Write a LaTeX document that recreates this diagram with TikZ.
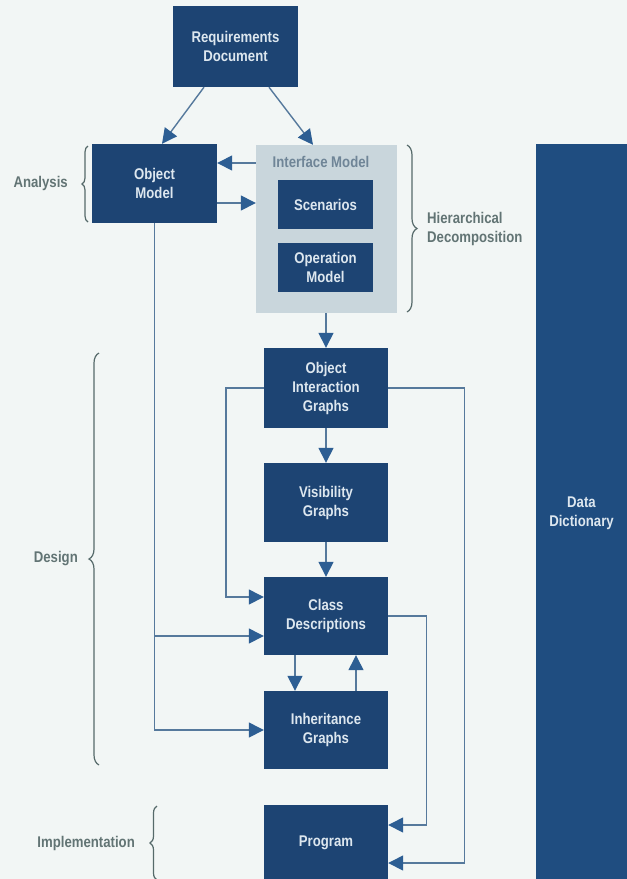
\documentclass[tikz,border=0pt]{standalone}
\usepackage{fontspec}
\newfontfamily\cond{Liberation Sans}[FakeStretch=0.85]
\usetikzlibrary{arrows.meta,decorations.pathreplacing,calc}

\definecolor{paper}{HTML}{F2F6F5}
\definecolor{navy}{HTML}{1D4473}
\definecolor{barblue}{HTML}{1F4D80}
\definecolor{panel}{HTML}{C9D6DC}
\definecolor{boxtext}{HTML}{DDE7EF}
\definecolor{labeltext}{HTML}{627474}
\definecolor{bracecol}{HTML}{566A6A}
\definecolor{paneltext}{HTML}{6F8597}
\definecolor{wire}{HTML}{56799C}
\definecolor{tipblue}{HTML}{2D5E93}

\tikzset{
  txt/.style={font=\cond\bfseries\fontsize{15.5pt}{19pt}\selectfont},
  stage/.style={txt, fill=navy, text=boxtext, align=center, inner sep=0pt,
                minimum width=124pt},
  inner/.style={stage, minimum width=95pt, minimum height=49pt},
  phase/.style={txt, text=labeltext, inner sep=0pt},
  flow/.style={draw=wire, line width=1.4pt,
               -{Triangle[length=15pt 0,width=15pt 0,color=tipblue]}},
  bracket/.style={draw=bracecol, line width=1.2pt, decorate,
                  decoration={brace, amplitude=#1}},
}

\begin{document}
\begin{tikzpicture}[x=1pt,y=-1pt]
  \useasboundingbox (0,0) rectangle (627,879);
  \fill[paper] (0,0) rectangle (627,879);
  \clip (0,0) rectangle (627,879);

  % data dictionary column on the right
  \node[stage, fill=barblue, minimum width=91pt, minimum height=738pt]
       (dd) at (581.5,513) {Data\\Dictionary};

  % analysis models
  \node[stage, minimum width=125pt, minimum height=81pt] (req) at (235.5,46.5)
       {Requirements\\Document};
  \node[stage, minimum width=125pt, minimum height=79pt] (om) at (154.5,183.5)
       {Object\\Model};
  \node[fill=panel, minimum width=141pt, minimum height=168pt, inner sep=0pt]
       (im) at (326.5,229) {};
  \node[txt, text=paneltext, inner sep=0pt] (iml) at (321,162) {Interface Model};
  \node[inner] (scen) at (325.5,204.5) {Scenarios};
  \node[inner] (opm) at (325.5,267.5) {Operation\\Model};

  % design models
  \node[stage, minimum height=80pt] (oig) at (326,388) {Object\\Interaction\\Graphs};
  \node[stage, minimum height=79pt] (vis) at (326,502.5) {Visibility\\Graphs};
  \node[stage, minimum height=78pt] (cls) at (326,616) {Class\\Descriptions};
  \node[stage, minimum height=78pt] (inh) at (326,730) {Inheritance\\Graphs};
  \node[stage, minimum height=76pt] (prog) at (326,843) {Program};

  % phase labels and braces
  \node[phase, anchor=east] (lan) at (68,183) {Analysis};
  \node[phase, anchor=east] (ldes) at (78,559) {Design};
  \node[phase, anchor=east] (limp) at (135,843) {Implementation};
  \node[phase, anchor=west, align=left] (lhier) at (427,228.5)
       {Hierarchical\\Decomposition};
  \draw[bracket=6pt] (88,222) -- (88,146);
  \draw[bracket=10pt] (407,145) -- (407,312);
  \draw[bracket=10pt] (99,765) -- (99,353);
  \draw[bracket=7pt] (157,880) -- (157,806);

  % connectors
  \draw[flow] ($(req.south)+(-31.5,0)$) -- ($(om.north)+(7.5,0)$);
  \draw[flow] ($(req.south)+(33.5,0)$) -- ($(im.north)+(-13.5,0)$);
  \draw[flow] (im.west |- 0,163) -- (om.east |- 0,163);
  \draw[flow] (om.east |- 0,203) -- (im.west |- 0,203);
  \draw[flow] (oig.north |- im.south) -- (oig.north);
  \draw[flow] (oig.south) -- (vis.north);
  \draw[flow] (vis.south) -- (cls.north);
  \draw[flow] (oig.west) -- ++(-38,0) |- ($(cls.west)+(0,-19)$);
  \draw[flow] (oig.east) -- ++(76,0) |- ($(prog.east)+(0,20)$);
  \draw[flow] (om.south) |- (inh.west);
  \path ($(cls.west)+(0,20)$) coordinate (cin);
  \draw[flow] (om.south |- cin) -- (cin);
  \draw[flow] ($(cls.south)+(-31,0)$) -- ($(inh.north)+(-31,0)$);
  \draw[flow] ($(inh.north)+(30,0)$) -- ($(cls.south)+(30,0)$);
  \draw[flow] (cls.east) -- ++(38,0) |- ($(prog.east)+(0,-18)$);
\end{tikzpicture}
\end{document}
